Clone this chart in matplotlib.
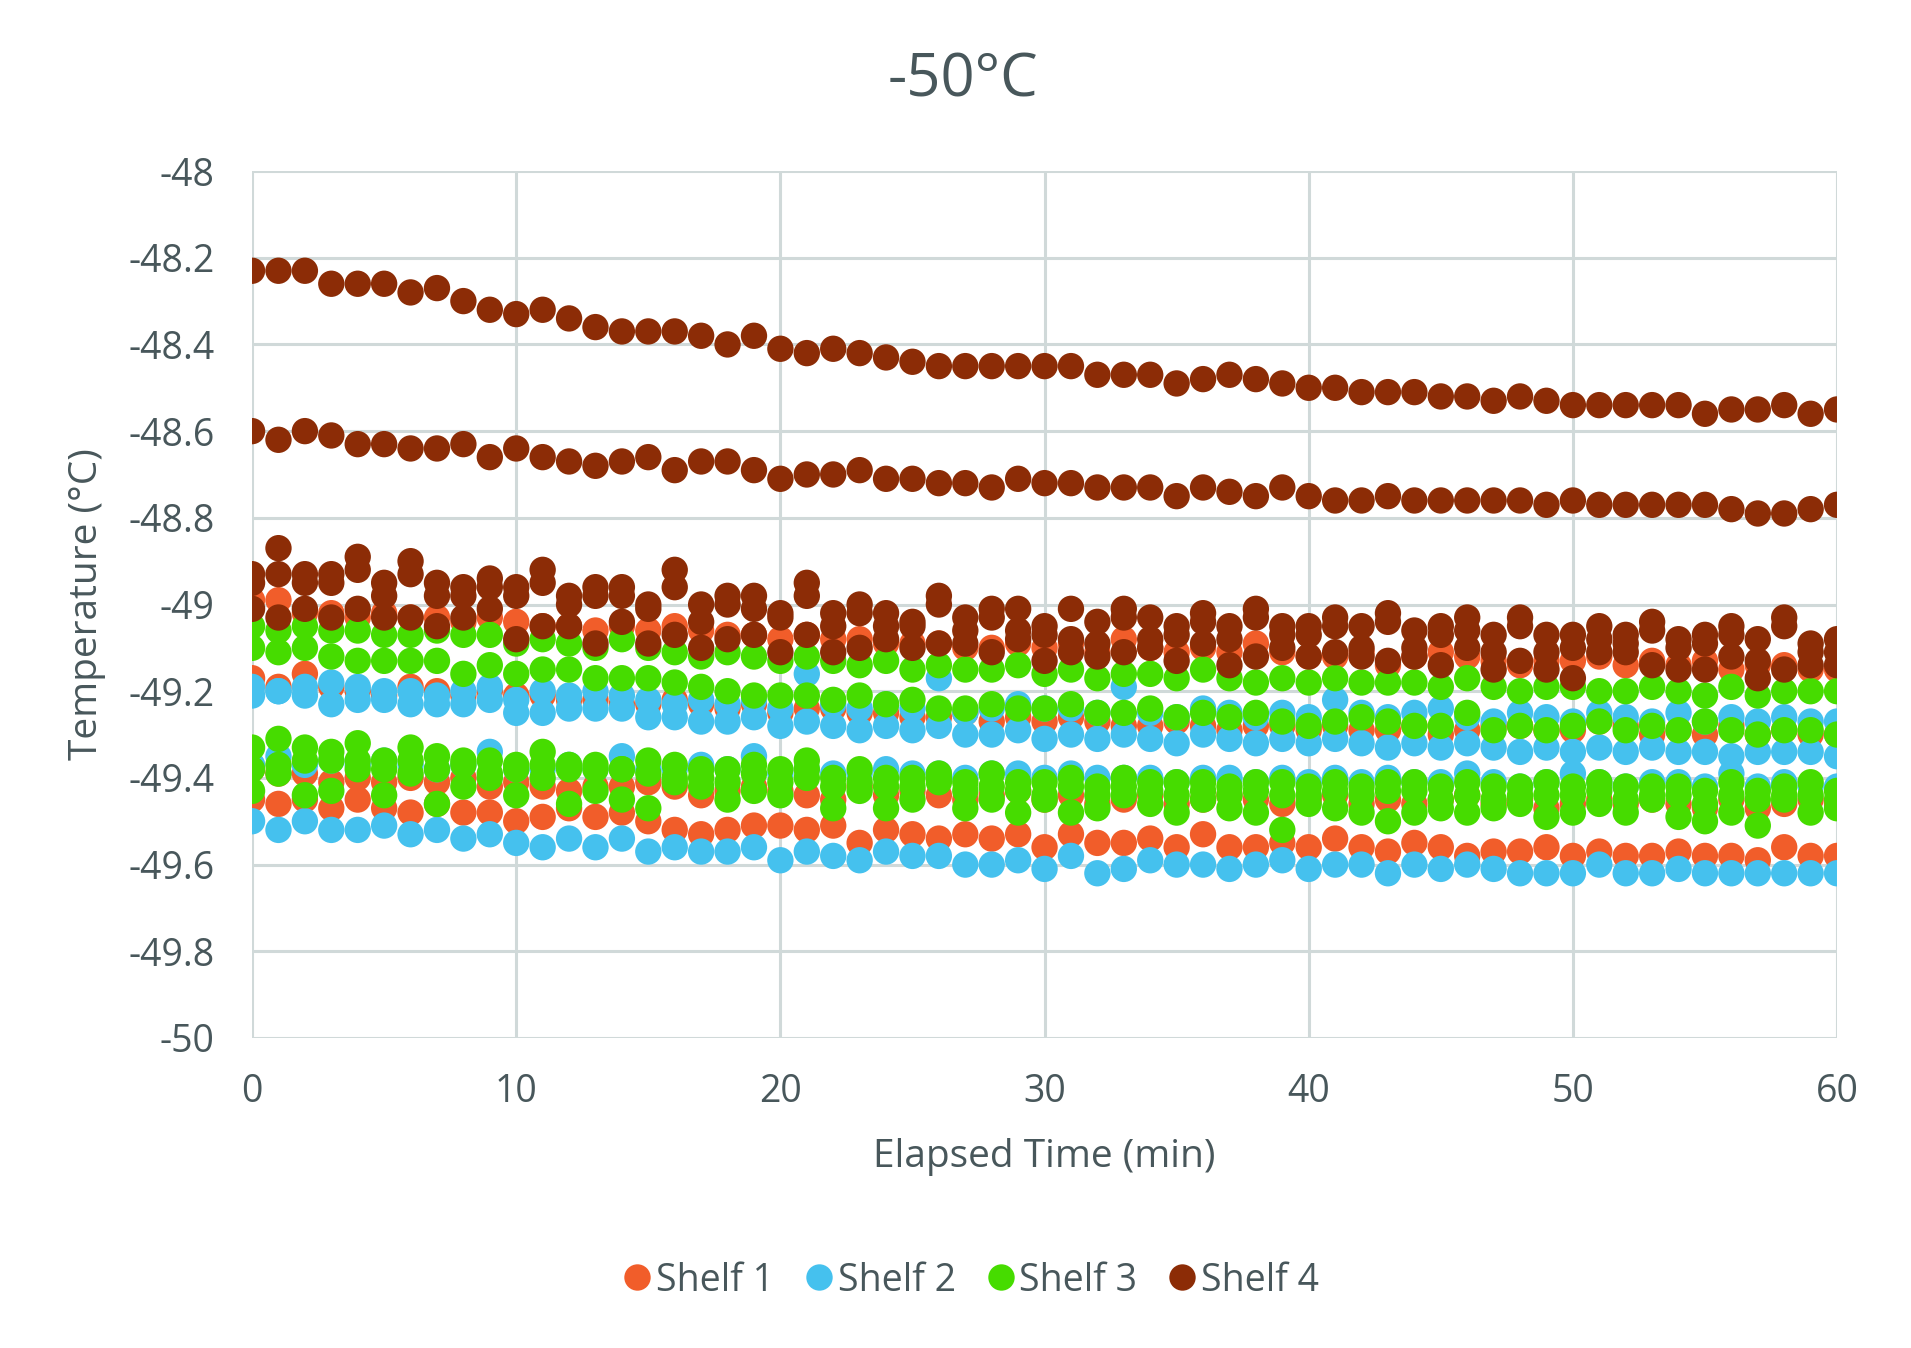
import numpy as np
import matplotlib
matplotlib.use("Agg")
import matplotlib.pyplot as plt
from matplotlib.lines import Line2D

minutes = list(range(61))

# Shelf 4 probes
s4_p1 = [-48.23,-48.23,-48.23,-48.26,-48.26,-48.26,-48.28,-48.27,-48.30,-48.32,
         -48.33,-48.32,-48.34,-48.36,-48.37,-48.37,-48.37,-48.38,-48.40,-48.38,
         -48.41,-48.42,-48.41,-48.42,-48.43,-48.44,-48.45,-48.45,-48.45,-48.45,
         -48.45,-48.45,-48.47,-48.47,-48.47,-48.49,-48.48,-48.47,-48.48,-48.49,
         -48.50,-48.50,-48.51,-48.51,-48.51,-48.52,-48.52,-48.53,-48.52,-48.53,
         -48.54,-48.54,-48.54,-48.54,-48.54,-48.56,-48.55,-48.55,-48.54,-48.56,
         -48.55]
s4_p2 = [-48.60,-48.62,-48.60,-48.61,-48.63,-48.63,-48.64,-48.64,-48.63,-48.66,
         -48.64,-48.66,-48.67,-48.68,-48.67,-48.66,-48.69,-48.67,-48.67,-48.69,
         -48.71,-48.70,-48.70,-48.69,-48.71,-48.71,-48.72,-48.72,-48.73,-48.71,
         -48.72,-48.72,-48.73,-48.73,-48.73,-48.75,-48.73,-48.74,-48.75,-48.73,
         -48.75,-48.76,-48.76,-48.75,-48.76,-48.76,-48.76,-48.76,-48.76,-48.77,
         -48.76,-48.77,-48.77,-48.77,-48.77,-48.77,-48.78,-48.79,-48.79,-48.78,
         -48.77]
s4_p3 = [-48.93,-48.87,-48.93,-48.93,-48.89,-48.95,-48.90,-48.95,-48.96,-48.94,
         -48.96,-48.92,-48.98,-48.96,-48.96,-49.00,-48.92,-49.00,-48.98,-48.98,
         -49.02,-48.95,-49.02,-49.00,-49.02,-49.04,-48.98,-49.03,-49.01,-49.01,
         -49.05,-49.01,-49.04,-49.01,-49.03,-49.05,-49.02,-49.05,-49.01,-49.05,
         -49.05,-49.03,-49.05,-49.02,-49.06,-49.05,-49.03,-49.07,-49.03,-49.07,
         -49.07,-49.05,-49.07,-49.04,-49.08,-49.07,-49.05,-49.08,-49.03,-49.09,
         -49.08]
s4_p4 = [-48.95,-48.93,-48.95,-48.95,-48.92,-48.98,-48.93,-48.98,-48.98,-48.96,
         -48.98,-48.95,-49.00,-48.98,-48.98,-49.01,-48.96,-49.04,-49.00,-49.01,
         -49.03,-48.98,-49.05,-49.02,-49.05,-49.05,-49.00,-49.06,-49.03,-49.06,
         -49.07,-49.08,-49.09,-49.03,-49.08,-49.07,-49.04,-49.08,-49.03,-49.07,
         -49.07,-49.05,-49.10,-49.04,-49.10,-49.07,-49.06,-49.11,-49.05,-49.11,
         -49.10,-49.08,-49.09,-49.06,-49.10,-49.09,-49.07,-49.13,-49.05,-49.11,
         -49.11]
s4_p5 = [-49.01,-49.03,-49.01,-49.03,-49.01,-49.03,-49.03,-49.05,-49.03,-49.01,
         -49.08,-49.05,-49.05,-49.09,-49.04,-49.09,-49.07,-49.10,-49.08,-49.07,
         -49.11,-49.07,-49.11,-49.10,-49.08,-49.10,-49.09,-49.09,-49.11,-49.08,
         -49.13,-49.11,-49.12,-49.11,-49.10,-49.13,-49.09,-49.14,-49.12,-49.10,
         -49.12,-49.11,-49.12,-49.13,-49.12,-49.14,-49.10,-49.15,-49.13,-49.15,
         -49.17,-49.11,-49.11,-49.14,-49.15,-49.15,-49.12,-49.17,-49.15,-49.14,
         -49.14]

# Shelf 1 probes
s1_p1 = [-48.99,-48.99,-49.02,-49.02,-49.03,-49.02,-49.03,-49.03,-49.04,-49.03,
         -49.04,-49.05,-49.05,-49.06,-49.05,-49.06,-49.05,-49.06,-49.07,-49.07,
         -49.08,-49.07,-49.08,-49.08,-49.09,-49.09,-49.09,-49.10,-49.10,-49.09,
         -49.10,-49.09,-49.11,-49.08,-49.10,-49.11,-49.10,-49.11,-49.09,-49.11,
         -49.12,-49.12,-49.11,-49.14,-49.12,-49.11,-49.12,-49.13,-49.14,-49.13,
         -49.13,-49.12,-49.14,-49.13,-49.14,-49.13,-49.15,-49.14,-49.14,-49.15,
         -49.15]
s1_p2 = [-49.17,-49.19,-49.16,-49.19,-49.20,-49.21,-49.19,-49.20,-49.21,-49.20,
         -49.21,-49.21,-49.22,-49.22,-49.23,-49.23,-49.22,-49.23,-49.24,-49.23,
         -49.25,-49.24,-49.24,-49.25,-49.25,-49.26,-49.26,-49.25,-49.27,-49.26,
         -49.27,-49.26,-49.27,-49.28,-49.28,-49.27,-49.28,-49.29,-49.28,-49.28,
         -49.29,-49.28,-49.29,-49.29,-49.28,-49.30,-49.29,-49.28,-49.28,-49.29,
         -49.29,-49.27,-49.28,-49.30,-49.29,-49.30,-49.28,-49.30,-49.29,-49.30,
         -49.30]
s1_p3 = [-49.38,-49.39,-49.39,-49.41,-49.40,-49.41,-49.40,-49.41,-49.40,-49.42,
         -49.41,-49.42,-49.43,-49.42,-49.42,-49.41,-49.42,-49.44,-49.43,-49.42,
         -49.43,-49.44,-49.45,-49.42,-49.44,-49.43,-49.44,-49.45,-49.44,-49.43,
         -49.45,-49.44,-49.46,-49.45,-49.44,-49.46,-49.45,-49.44,-49.45,-49.46,
         -49.45,-49.44,-49.46,-49.45,-49.46,-49.45,-49.44,-49.46,-49.45,-49.47,
         -49.46,-49.45,-49.46,-49.45,-49.46,-49.47,-49.45,-49.47,-49.46,-49.45,
         -49.46]
s1_p4 = [-49.45,-49.46,-49.45,-49.47,-49.45,-49.47,-49.48,-49.46,-49.48,-49.48,
         -49.50,-49.49,-49.47,-49.49,-49.48,-49.50,-49.52,-49.53,-49.52,-49.51,
         -49.51,-49.52,-49.51,-49.55,-49.52,-49.53,-49.54,-49.53,-49.54,-49.53,
         -49.56,-49.53,-49.55,-49.55,-49.54,-49.56,-49.53,-49.56,-49.56,-49.55,
         -49.56,-49.54,-49.56,-49.57,-49.55,-49.56,-49.58,-49.57,-49.57,-49.56,
         -49.58,-49.57,-49.58,-49.58,-49.57,-49.58,-49.58,-49.59,-49.56,-49.58,
         -49.58]

# Shelf 2 probes
s2_p1 = [-49.19,-49.20,-49.19,-49.18,-49.19,-49.20,-49.20,-49.21,-49.20,-49.19,
         -49.22,-49.20,-49.21,-49.20,-49.21,-49.22,-49.23,-49.22,-49.23,-49.22,
         -49.24,-49.16,-49.23,-49.24,-49.23,-49.24,-49.17,-49.25,-49.24,-49.23,
         -49.24,-49.24,-49.25,-49.19,-49.25,-49.26,-49.24,-49.25,-49.26,-49.25,
         -49.26,-49.22,-49.25,-49.26,-49.25,-49.24,-49.26,-49.27,-49.25,-49.26,
         -49.27,-49.25,-49.26,-49.27,-49.25,-49.27,-49.26,-49.27,-49.26,-49.27,
         -49.27]
s2_p2 = [-49.21,-49.20,-49.21,-49.23,-49.22,-49.22,-49.23,-49.23,-49.23,-49.22,
         -49.25,-49.25,-49.24,-49.24,-49.24,-49.26,-49.26,-49.27,-49.27,-49.26,
         -49.28,-49.27,-49.28,-49.29,-49.28,-49.29,-49.28,-49.30,-49.30,-49.29,
         -49.31,-49.30,-49.31,-49.30,-49.31,-49.32,-49.30,-49.31,-49.32,-49.31,
         -49.32,-49.31,-49.32,-49.33,-49.32,-49.33,-49.32,-49.33,-49.34,-49.33,
         -49.34,-49.33,-49.34,-49.33,-49.34,-49.34,-49.35,-49.34,-49.34,-49.34,
         -49.35]
s2_p3 = [-49.37,-49.35,-49.37,-49.36,-49.37,-49.36,-49.37,-49.38,-49.37,-49.34,
         -49.38,-49.38,-49.37,-49.38,-49.35,-49.38,-49.38,-49.37,-49.38,-49.35,
         -49.39,-49.38,-49.39,-49.39,-49.38,-49.39,-49.39,-49.40,-49.39,-49.39,
         -49.40,-49.39,-49.40,-49.40,-49.40,-49.41,-49.40,-49.40,-49.41,-49.40,
         -49.41,-49.40,-49.41,-49.40,-49.41,-49.41,-49.39,-49.41,-49.42,-49.41,
         -49.39,-49.41,-49.42,-49.41,-49.41,-49.42,-49.39,-49.42,-49.41,-49.42,
         -49.42]
s2_p4 = [-49.50,-49.52,-49.50,-49.52,-49.52,-49.51,-49.53,-49.52,-49.54,-49.53,
         -49.55,-49.56,-49.54,-49.56,-49.54,-49.57,-49.56,-49.57,-49.57,-49.56,
         -49.59,-49.57,-49.58,-49.59,-49.57,-49.58,-49.58,-49.60,-49.60,-49.59,
         -49.61,-49.58,-49.62,-49.61,-49.59,-49.60,-49.60,-49.61,-49.60,-49.59,
         -49.61,-49.60,-49.60,-49.62,-49.60,-49.61,-49.60,-49.61,-49.62,-49.62,
         -49.62,-49.60,-49.62,-49.62,-49.61,-49.62,-49.62,-49.62,-49.62,-49.62,
         -49.62]

# Shelf 3 probes
s3_p1 = [-49.05,-49.06,-49.05,-49.06,-49.06,-49.07,-49.07,-49.06,-49.07,-49.07,
         -49.09,-49.08,-49.09,-49.10,-49.08,-49.10,-49.11,-49.12,-49.11,-49.12,
         -49.13,-49.12,-49.13,-49.14,-49.13,-49.15,-49.14,-49.15,-49.15,-49.14,
         -49.16,-49.15,-49.17,-49.16,-49.16,-49.17,-49.15,-49.17,-49.18,-49.17,
         -49.18,-49.17,-49.18,-49.18,-49.18,-49.19,-49.17,-49.19,-49.20,-49.19,
         -49.19,-49.20,-49.20,-49.19,-49.20,-49.21,-49.19,-49.21,-49.20,-49.20,
         -49.20]
s3_p2 = [-49.10,-49.11,-49.10,-49.12,-49.13,-49.13,-49.13,-49.13,-49.16,-49.14,
         -49.16,-49.15,-49.15,-49.17,-49.17,-49.17,-49.18,-49.19,-49.20,-49.21,
         -49.21,-49.21,-49.22,-49.21,-49.23,-49.22,-49.24,-49.24,-49.23,-49.24,
         -49.24,-49.23,-49.25,-49.25,-49.24,-49.26,-49.25,-49.26,-49.25,-49.27,
         -49.28,-49.27,-49.26,-49.27,-49.28,-49.28,-49.25,-49.29,-49.28,-49.29,
         -49.28,-49.27,-49.29,-49.28,-49.29,-49.27,-49.29,-49.30,-49.29,-49.29,
         -49.30]
s3_p3 = [-49.33,-49.31,-49.33,-49.34,-49.32,-49.36,-49.33,-49.35,-49.36,-49.36,
         -49.37,-49.34,-49.37,-49.37,-49.38,-49.36,-49.37,-49.38,-49.38,-49.37,
         -49.38,-49.36,-49.40,-49.38,-49.40,-49.40,-49.39,-49.41,-49.39,-49.41,
         -49.41,-49.40,-49.42,-49.40,-49.41,-49.41,-49.41,-49.42,-49.41,-49.41,
         -49.42,-49.41,-49.42,-49.41,-49.41,-49.42,-49.41,-49.42,-49.42,-49.41,
         -49.42,-49.41,-49.42,-49.42,-49.42,-49.43,-49.41,-49.43,-49.42,-49.41,
         -49.43]
s3_p4 = [-49.38,-49.37,-49.36,-49.36,-49.36,-49.38,-49.36,-49.38,-49.37,-49.39,
         -49.38,-49.37,-49.38,-49.38,-49.38,-49.39,-49.40,-49.40,-49.41,-49.39,
         -49.41,-49.38,-49.42,-49.41,-49.42,-49.42,-49.41,-49.43,-49.42,-49.43,
         -49.44,-49.42,-49.44,-49.42,-49.43,-49.44,-49.43,-49.44,-49.43,-49.44,
         -49.44,-49.43,-49.44,-49.43,-49.43,-49.45,-49.44,-49.45,-49.44,-49.44,
         -49.44,-49.43,-49.45,-49.45,-49.44,-49.46,-49.44,-49.45,-49.44,-49.44,
         -49.45]
s3_p5 = [-49.43,-49.39,-49.44,-49.43,-49.38,-49.44,-49.39,-49.46,-49.42,-49.40,
         -49.44,-49.40,-49.46,-49.43,-49.45,-49.47,-49.41,-49.42,-49.45,-49.43,
         -49.44,-49.40,-49.47,-49.43,-49.47,-49.45,-49.40,-49.47,-49.45,-49.48,
         -49.45,-49.48,-49.47,-49.44,-49.46,-49.48,-49.45,-49.47,-49.48,-49.52,
         -49.46,-49.47,-49.48,-49.50,-49.48,-49.47,-49.48,-49.47,-49.46,-49.49,
         -49.48,-49.46,-49.48,-49.44,-49.49,-49.50,-49.48,-49.51,-49.45,-49.48,
         -49.47]

shelf_names = ["Shelf 1", "Shelf 2", "Shelf 3", "Shelf 4"]
shelf_colors = ["#F15D2A", "#45C1EE", "#46DC00", "#8C2C06"]
shelf_probes = [
    [s1_p1, s1_p2, s1_p3, s1_p4],
    [s2_p1, s2_p2, s2_p3, s2_p4],
    [s3_p1, s3_p2, s3_p3, s3_p4, s3_p5],
    [s4_p1, s4_p2, s4_p3, s4_p4, s4_p5],
]

x_ticks = [0, 10, 20, 30, 40, 50, 60]
y_ticks = [-50, -49.8, -49.6, -49.4, -49.2, -49, -48.8, -48.6, -48.4, -48.2, -48]
y_tick_labels = ["-50", "-49.8", "-49.6", "-49.4", "-49.2", "-49", "-48.8",
                 "-48.6", "-48.4", "-48.2", "-48"]

text_color = "#48575B"
grid_color = "#D0D9D9"

plt.rcParams['font.family'] = ['Open Sans', 'DejaVu Sans']

fig = plt.figure(figsize=(19.11, 13.48), dpi=100)
ax = fig.add_axes([0.1319, 0.2300, 0.8294, 0.6431])

for name, color, probes in zip(shelf_names, shelf_colors, shelf_probes):
    for vals in probes:
        ax.scatter(minutes, vals, s=360, color=color, edgecolors='none', zorder=3)

ax.set_xlim(0, 60)
ax.set_ylim(-50, -48)
ax.set_xticks(x_ticks)
ax.set_yticks(y_ticks)
ax.set_yticklabels(y_tick_labels)
ax.grid(True, color=grid_color, linewidth=2.2, zorder=0)
ax.set_axisbelow(True)
for sp in ax.spines.values():
    sp.set_visible(False)
ax.tick_params(length=0, labelsize=27, colors=text_color)
ax.tick_params(axis='y', pad=27)
ax.tick_params(axis='x', pad=25)

ax.set_xlabel("Elapsed Time (min)", fontsize=28, color=text_color, labelpad=20)
ax.set_ylabel("Temperature (°C)", fontsize=28, color=text_color, labelpad=16)
fig.text(0.504, 0.940, "-50°C", ha='center', va='center', fontsize=43, color=text_color)

handles = [Line2D([], [], marker='o', linestyle='none', markersize=19,
                  markerfacecolor=c, markeredgecolor='none', label=n)
           for n, c in zip(shelf_names, shelf_colors)]
fig.legend(handles=handles, loc='center', bbox_to_anchor=(0.506, 0.050), ncol=4,
           frameon=False, fontsize=27, handletextpad=-0.1, columnspacing=0.6,
           handlelength=1.2, labelcolor=text_color)

fig.savefig("out.png", dpi=100)
